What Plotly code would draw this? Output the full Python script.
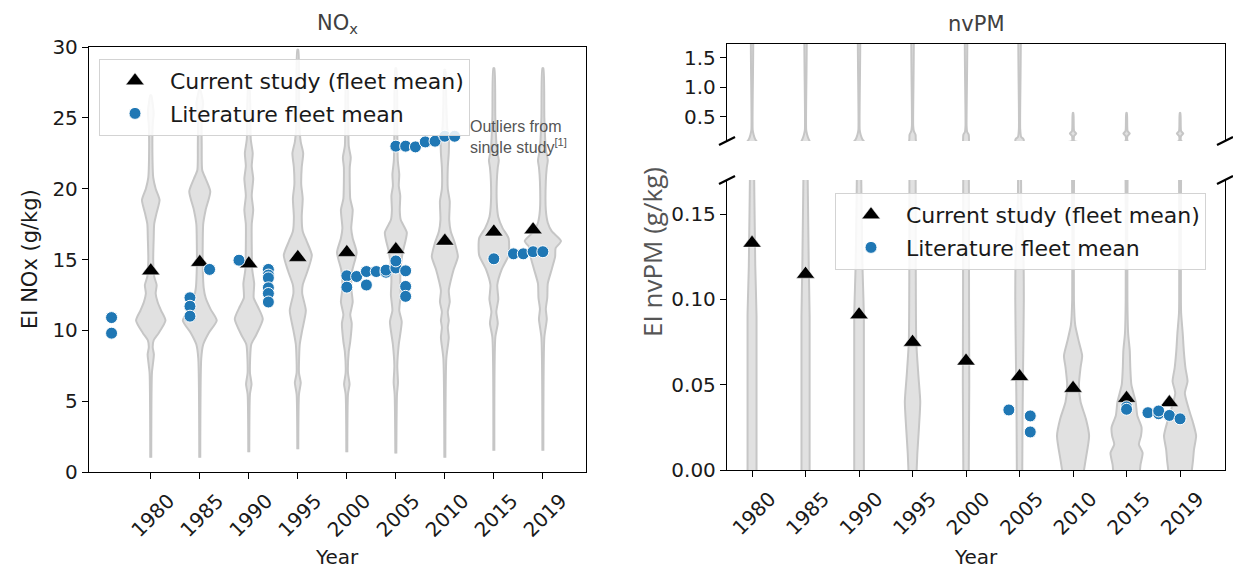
import plotly.graph_objects as go

# ---------------- data ----------------
VIOLIN_POS = [1980, 1985, 1990, 1995, 2000, 2005, 2010, 2015, 2020]
TICK_LABELS = ["1980", "1985", "1990", "1995", "2000", "2005", "2010", "2015", "2019"]

MEAN_YEARS = [1980, 1985, 1990, 1995, 2000, 2005, 2010, 2015, 2019]
NOX_MEAN = [14.2, 14.8, 14.7, 15.15, 15.5, 15.7, 16.3, 16.95, 17.1]
PM_MEAN = [0.133, 0.1148, 0.091, 0.0749, 0.0639, 0.0548, 0.0479, 0.042, 0.0395]

NOX_LIT_YEAR = [1976, 1976, 1984, 1984, 1984, 1986, 1989,
                1992, 1992, 1992, 1992, 1992, 1992,
                2000, 2000, 2001, 2002, 2002, 2003, 2004, 2004,
                2005, 2005, 2006, 2006, 2006,
                2005, 2006, 2007, 2008, 2009, 2010, 2011,
                2015, 2017, 2018, 2019, 2020]
NOX_LIT_VAL = [10.9, 9.8, 12.3, 11.7, 11.0, 14.3, 14.95,
               14.3, 13.9, 13.7, 13.0, 12.6, 12.0,
               13.85, 13.05, 13.8, 14.15, 13.2, 14.15, 14.1, 14.25,
               14.4, 14.9, 14.2, 13.1, 12.4,
               23.0, 23.0, 22.95, 23.3, 23.35, 23.7, 23.7,
               15.05, 15.4, 15.4, 15.55, 15.55]

PM_LIT_YEAR = [2004, 2006, 2006, 2015, 2015, 2017, 2018, 2018, 2019, 2020]
PM_LIT_VAL = [0.0352, 0.0317, 0.0223, 0.037, 0.0356, 0.0336, 0.033, 0.0346, 0.032, 0.030]

# violin profiles: (EI value, half width in years)
NOX_VIOLINS = [
    [(1.0, .05), (7.0, .12), (7.8, .25), (8.3, .32), (8.8, .2), (9.3, .3), (9.8, .8), (10.7, 1.5),
     (11.4, 1.05), (12.0, .7), (12.6, .5), (13.2, .6), (13.8, .35), (15, .25), (16.5, .3), (17.5, .35),
     (18.3, .6), (19.2, .9), (20.0, .5), (20.8, .25), (22, .18), (24.5, .2), (25.3, .3), (26.0, .2), (26.6, .05)],
    [(1.0, .05), (8.0, .15), (9.0, .35), (9.8, .9), (10.7, 1.73), (11.5, 1.1), (12.3, .6), (13.0, .4),
     (14.5, .3), (16, .3), (17.5, .35), (18.5, .6), (19.8, 1.07), (20.7, .6), (21.3, .25), (23, .2),
     (25.3, .2), (26, .35), (26.6, .2), (27.0, .05)],
    [(1.4, .05), (5.5, .12), (6.2, .28), (7, .12), (9.0, .25), (9.6, .7), (10.8, 1.43), (11.7, .9),
     (12.3, .5), (13.3, .55), (14.3, .35), (16, .3), (17.5, .3), (18.5, .45), (19.5, .3), (20.7, .45),
     (21.6, .3), (22.5, .4), (23.5, .2), (26, .15), (27.2, .05)],
    [(1.6, .05), (5.5, .12), (6.3, .3), (7.0, .12), (9.0, .2), (10.0, .45), (11.4, .82), (12.6, .45),
     (13.2, .5), (14.2, 1.0), (15.3, 1.43), (16.3, .9), (17.0, .5), (18.0, .4), (19.3, .5), (20.3, .35),
     (21.5, .4), (22.5, .55), (23.3, .3), (24.5, .15), (29.8, .05)],
    [(1.4, .05), (5.5, .12), (6.2, .28), (7.0, .12), (8.5, .2), (9.2, .35), (10.5, .5), (11.1, .35),
     (12.0, .6), (13.0, .45), (14.2, .55), (15.5, 1.0), (16.5, .6), (17.2, .45), (18.5, .6), (19.3, .35),
     (20.5, .3), (21.5, .3), (22.2, .4), (23, .2), (25, .15), (28.2, .05)],
    [(1.3, .05), (5.5, .12), (6.3, .22), (7.5, .15), (9.0, .3), (10.6, .6), (11.4, .35), (12.5, .5),
     (13.5, .45), (14.5, .5), (15.5, .7), (16.9, 1.12), (17.8, .5), (18.5, .4), (19.5, .45), (20.2, .3),
     (21.0, .35), (22, .2), (24, .15), (28.5, .05)],
    [(1.0, .05), (8.0, .15), (9.5, .4), (10.2, .3), (10.7, .4), (11.3, .3), (12.0, .5), (12.8, .4),
     (13.5, .6), (14.3, .9), (15.2, 1.33), (16.2, 1.0), (17.0, .6), (17.8, .45), (19.1, .5), (20.0, .3),
     (21.5, .3), (22.5, .4), (23.3, .42), (24.2, .25), (26, .15), (28.4, .05)],
    [(1.5, .05), (9.5, .15), (10.5, .4), (11.3, .25), (12.2, .45), (13.2, .35), (14.3, .8), (15.3, 1.5),
     (16.5, 1.5), (17.2, .9), (18.0, .45), (19.0, .3), (20.5, .3), (21.5, .4), (22.0, .5), (22.8, .3),
     (25, .15), (28.5, .05)],
    [(1.5, .05), (9.5, .15), (10.8, .4), (11.5, .3), (12.3, .45), (13.3, .5), (14.3, .9), (15.2, 1.25),
     (15.8, 1.3), (16.3, 1.85), (17.0, .9), (17.6, .5), (18.5, .3), (20.5, .3), (21.5, .4), (22.0, .5),
     (22.8, .3), (25, .15), (28.5, .05)],
]

PM_VIOLINS = [
    [(-0.01, .42), (0.09, .42), (0.12, .3), (0.2, .15), (0.28, .06), (2.5, .05)],
    [(-0.01, .38), (0.09, .38), (0.12, .3), (0.2, .15), (0.28, .06), (2.5, .05)],
    [(-0.01, .45), (0.09, .45), (0.12, .32), (0.2, .15), (0.28, .06), (2.5, .05)],
    [(-0.005, .35), (0.01, .45), (0.025, .6), (0.04, .72), (0.055, .55), (0.075, .35), (0.12, .3),
     (0.2, .28), (0.26, .12), (0.35, .06), (2.5, .05)],
    [(-0.005, .25), (0.05, .3), (0.1, .28), (0.2, .25), (0.25, .1), (0.35, .05), (2.5, .05)],
    [(-0.005, .25), (0.03, .28), (0.06, .33), (0.1, .4), (0.13, .35), (0.16, .15), (0.3, .06), (2.5, .05)],
    [(-0.005, .9), (0.005, 1.15), (0.02, 1.5), (0.03, 1.2), (0.04, .7), (0.05, .55), (0.06, .7),
     (0.067, .85), (0.075, .55), (0.085, .2), (0.1, .08), (0.18, .1), (0.22, .3), (0.26, .1), (0.57, .03)],
    [(-0.005, 1.2), (0.003, 1.3), (0.01, 1.5), (0.015, 1.15), (0.02, 1.35), (0.025, 1.4), (0.032, 1.0),
     (0.04, .85), (0.05, .45), (0.06, .35), (0.07, .3), (0.08, .15), (0.1, .08), (0.18, .1), (0.22, .3),
     (0.26, .1), (0.57, .03)],
    [(-0.005, 1.0), (0.005, 1.2), (0.012, 1.3), (0.02, 1.5), (0.028, 1.2), (0.035, .85), (0.045, .45),
     (0.052, .7), (0.06, .5), (0.07, .35), (0.08, .25), (0.092, .1), (0.1, .08), (0.18, .1), (0.22, .3),
     (0.26, .1), (0.57, .03)],
]

# ---------------- styling ----------------
W, H = 1233, 574
VFILL = "#e1e1e1"
VLINE = "#c6c6c6"
BLUE = "#1f77b4"
FONT = "DejaVu Sans"


def px(x):
    return x / W


def py(y):
    return 1 - y / H


def violin_xy(center, prof):
    ys = [p[0] for p in prof]
    ws = [p[1] for p in prof]
    x = [center + w for w in ws] + [center - w for w in reversed(ws)]
    y = ys + ys[::-1]
    return x, y


fig = go.Figure()

# left violins
for c, prof in zip(VIOLIN_POS, NOX_VIOLINS):
    vx, vy = violin_xy(c, prof)
    fig.add_trace(go.Scatter(x=vx, y=vy, fill="toself", fillcolor=VFILL, mode="lines",
                             line=dict(color=VLINE, width=2, shape="spline", smoothing=0.6),
                             showlegend=False, hoverinfo="skip", xaxis="x", yaxis="y"))

# right violins on both broken axes
for ax in [("x2", "y2"), ("x3", "y3")]:
    for c, prof in zip(VIOLIN_POS, PM_VIOLINS):
        vx, vy = violin_xy(c, prof)
        fig.add_trace(go.Scatter(x=vx, y=vy, fill="toself", fillcolor=VFILL, mode="lines",
                                 line=dict(color=VLINE, width=2, shape="spline", smoothing=0.6),
                                 showlegend=False, hoverinfo="skip", xaxis=ax[0], yaxis=ax[1]))

tri = dict(symbol="triangle-up", size=16, color="black", line=dict(color="white", width=0.5))
dot = dict(symbol="circle", size=12, color=BLUE, line=dict(color="white", width=1))

fig.add_trace(go.Scatter(x=MEAN_YEARS, y=NOX_MEAN, mode="markers", marker=tri,
                         name="Current study (fleet mean)", legend="legend", legendgroup="a",
                         xaxis="x", yaxis="y"))
fig.add_trace(go.Scatter(x=NOX_LIT_YEAR, y=NOX_LIT_VAL, mode="markers", marker=dot,
                         name="Literature fleet mean", legend="legend", legendgroup="b",
                         xaxis="x", yaxis="y"))
fig.add_trace(go.Scatter(x=MEAN_YEARS, y=PM_MEAN, mode="markers", marker=tri,
                         name="Current study (fleet mean)", legend="legend2", legendgroup="c",
                         xaxis="x3", yaxis="y3"))
fig.add_trace(go.Scatter(x=PM_LIT_YEAR, y=PM_LIT_VAL, mode="markers", marker=dot,
                         name="Literature fleet mean", legend="legend2", legendgroup="d",
                         xaxis="x3", yaxis="y3"))

tickfont = dict(family=FONT, size=20, color="#1a1a1a")
axcommon = dict(showgrid=False, zeroline=False, showline=True, linecolor="black", linewidth=1.3,
                ticks="outside", ticklen=6, tickwidth=1.2, tickcolor="black", tickfont=tickfont,
                automargin=False)

xcommon = dict(axcommon, tickvals=VIOLIN_POS, ticktext=TICK_LABELS, tickangle=-45,
               ticklabelshift=18, ticklabelstandoff=2)

legend_common = dict(font=dict(family=FONT, size=22, color="#1a1a1a"), bgcolor="rgba(255,255,255,0.85)",
                     bordercolor="#d3d3d3", borderwidth=1, xanchor="left", yanchor="top",
                     tracegroupgap=1, itemwidth=60)

fig.update_layout(
    template="none",
    width=W, height=H, margin=dict(l=0, r=0, t=0, b=0, pad=0, autoexpand=False),
    paper_bgcolor="white", plot_bgcolor="white",
    xaxis=dict(xcommon, domain=[px(89), px(586)], range=[1973.7, 2024.4], anchor="y", mirror=True),
    yaxis=dict(axcommon, domain=[py(472), py(47)], range=[0, 30], tickvals=[0, 5, 10, 15, 20, 25, 30],
               anchor="x", mirror=True),
    xaxis2=dict(axcommon, domain=[px(727), px(1225)], range=[1977.66, 2024.2], anchor="y2",
                side="top", ticks="", showticklabels=False, mirror=False),
    yaxis2=dict(axcommon, domain=[py(141), py(44)], range=[0.093, 1.737], tickvals=[0.5, 1.0, 1.5],
                tickformat=".1f", anchor="x2", mirror=True),
    xaxis3=dict(xcommon, domain=[px(727), px(1225)], range=[1977.66, 2024.2], anchor="y3", mirror=False),
    yaxis3=dict(axcommon, domain=[py(470), py(180)], range=[0, 0.17], tickvals=[0, 0.05, 0.10, 0.15],
                tickformat=".2f", anchor="x3", mirror=True),
    legend=dict(legend_common, x=px(99), y=py(59)),
    legend2=dict(legend_common, x=px(835), y=py(193)),
    showlegend=True,
)

ann = []
ann.append(dict(text="NO<sub>x</sub>", x=px(337), y=py(24), xref="paper", yref="paper",
                xanchor="center", yanchor="middle",
                showarrow=False, font=dict(family=FONT, size=21, color="#404040")))
ann.append(dict(text="nvPM", x=px(976), y=py(24), xref="paper", yref="paper",
                xanchor="center", yanchor="middle",
                showarrow=False, font=dict(family=FONT, size=21, color="#404040")))
ann.append(dict(text="EI NOx (g/kg)", x=px(30), y=py(259), xref="paper", yref="paper", textangle=-90,
                xanchor="center", yanchor="middle",
                showarrow=False, font=dict(family=FONT, size=21, color="#1a1a1a")))
ann.append(dict(text="EI nvPM (g/kg)", x=px(652), y=py(252), xref="paper", yref="paper", textangle=-90,
                xanchor="center", yanchor="middle",
                showarrow=False, font=dict(family="Open Sans", size=26, color="#555555")))
ann.append(dict(text="Year", x=px(337), y=py(557), xref="paper", yref="paper",
                xanchor="center", yanchor="middle",
                showarrow=False, font=dict(family=FONT, size=20, color="#1a1a1a")))
ann.append(dict(text="Year", x=px(976), y=py(557), xref="paper", yref="paper",
                xanchor="center", yanchor="middle",
                showarrow=False, font=dict(family=FONT, size=20, color="#1a1a1a")))
ann.append(dict(text="Outliers from<br>single study<sup>[1]</sup>", x=2012.4, y=23.65, xref="x", yref="y",
                xanchor="left", yanchor="middle", align="left", showarrow=False,
                font=dict(family="Liberation Sans", size=16, color="#555555")))
fig.update_layout(annotations=ann)

# broken-axis marks
shapes = []
for (x0, y0, x1, y1) in [(719, 145, 735, 137), (719, 184, 735, 176),
                         (1217, 145, 1233, 137), (1217, 184, 1233, 176)]:
    shapes.append(dict(type="line", xref="paper", yref="paper", x0=px(x0), y0=py(y0), x1=px(x1), y1=py(y1),
                       line=dict(color="black", width=2.2)))
fig.update_layout(shapes=shapes)

fig.write_html("out.html")
